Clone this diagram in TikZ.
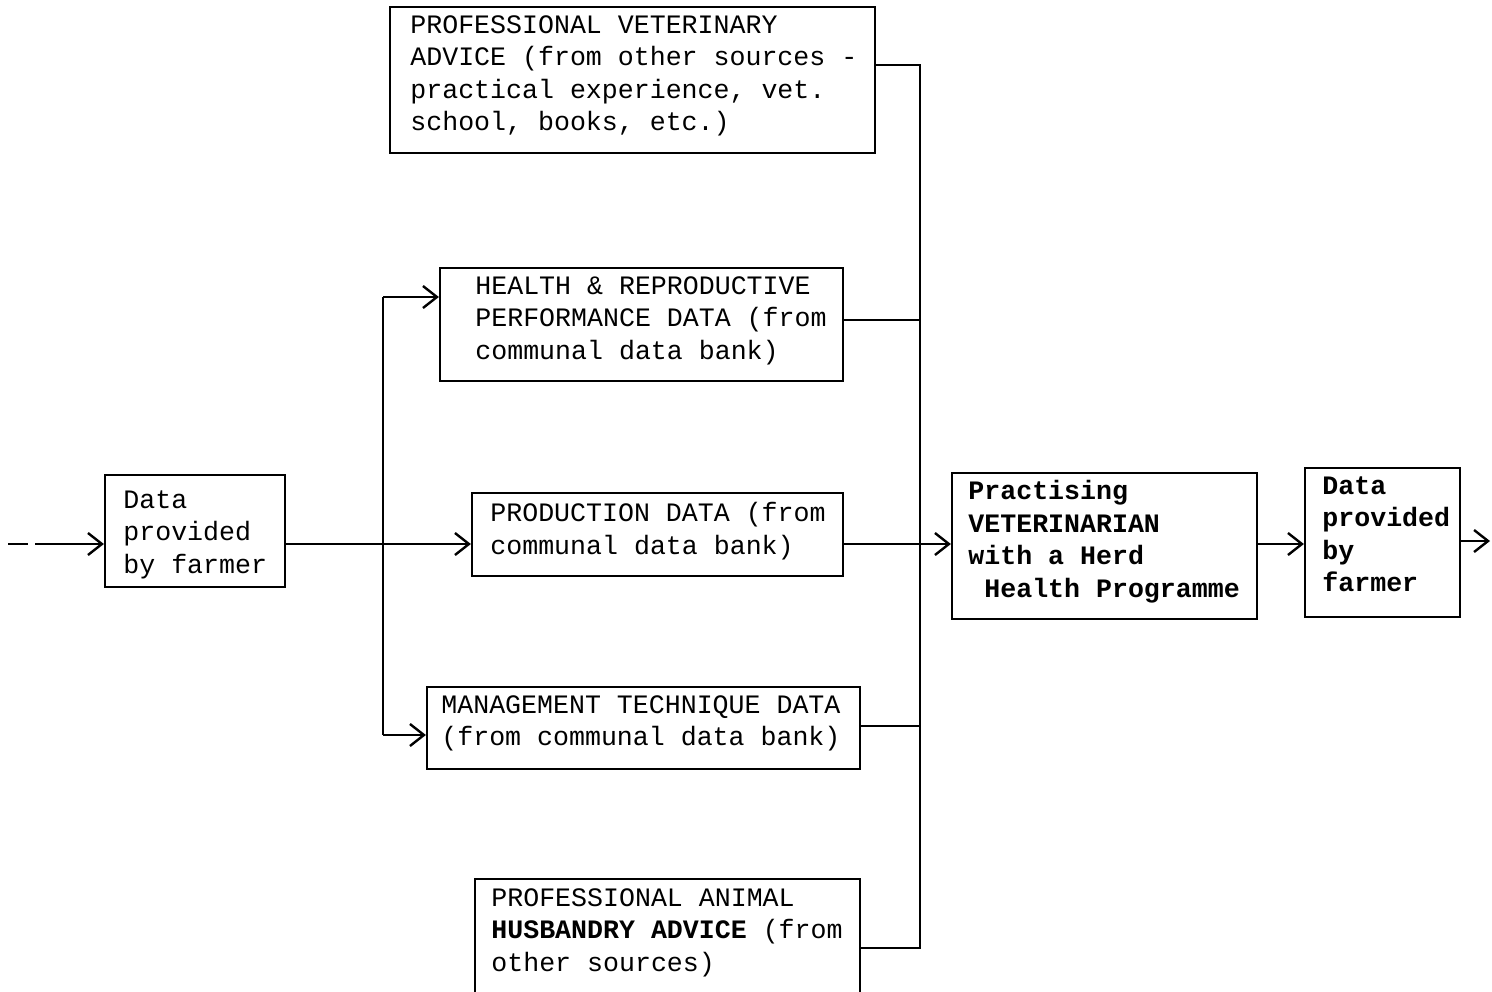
\documentclass[tikz,border=0pt]{standalone}
\usepackage{fontspec}
\setmonofont{Liberation Mono}
\usetikzlibrary{arrows.meta}
\begin{document}
\begin{tikzpicture}[x=0.5pt,y=-0.5pt,
  box/.style={draw, line width=1.1pt, rectangle, inner sep=0pt},
  txt/.style={font=\fontsize{13.3}{16.3}\selectfont\ttfamily, align=left, inner sep=0pt, anchor=north west},
  conn/.style={line width=1.1pt},
  arr/.style={line width=1.1pt, -{Straight Barb[length=7pt,width=11pt,line width=1.2pt]}}]
\useasboundingbox (0,0) rectangle (1492,991);
\clip (0,0) rectangle (1492,991);
% boxes
\node[box, minimum width=90pt, minimum height=56pt] (farmer) at (195,531) {};
\node[box, minimum width=201.5pt, minimum height=56.5pt] (health) at (641.5,324.5) {};
\node[box, minimum width=185.5pt, minimum height=41.5pt] (prod) at (657.5,534.5) {};
\node[box, minimum width=216.5pt, minimum height=41pt] (mgmt) at (643.5,728) {};
\node[box, minimum width=242.5pt, minimum height=73pt] (pvet) at (632.5,80) {};
\node[box, minimum width=192.5pt, minimum height=65.5pt] (animal) at (667.5,944.5) {};
\node[box, minimum width=152.5pt, minimum height=73pt] (vet) at (1104.5,546) {};
\node[box, minimum width=77.5pt, minimum height=74.5pt] (data) at (1382.5,542.5) {};
% texts
\node[txt] (farmerT) at (123,490) {Data\\provided\\by farmer};
\node[txt] (healthT) at (475,276) {HEALTH \& REPRODUCTIVE\\PERFORMANCE DATA (from\\communal data bank)};
\node[txt] (prodT) at (490,502) {PRODUCTION DATA (from\\communal data bank)};
\node[txt] (mgmtT) at (441,695) {MANAGEMENT TECHNIQUE DATA\\(from communal data bank)};
\node[txt] (pvetT) at (410,15) {PROFESSIONAL VETERINARY\\ADVICE (from other sources -\\practical experience, vet.\\school, books, etc.)};
\node[txt] (animalT) at (491,888) {PROFESSIONAL ANIMAL\\\textbf{HUSBANDRY ADVICE} (from\\other sources)};
\node[txt, font=\fontsize{13.3}{16.3}\selectfont\ttfamily\bfseries] (vetT) at (968,480) {Practising\\VETERINARIAN\\with a Herd\\\ Health Programme};
\node[txt, font=\fontsize{13.3}{16.3}\selectfont\ttfamily\bfseries] (dataT) at (1322,476) {Data\\provided\\by\\farmer};
% coordinates
\coordinate (in) at (8,544);
\coordinate (in2) at (35,544);
\coordinate (main) at (383,544);
\coordinate (bt) at (383,297);
\coordinate (bb) at (383,735);
\coordinate (ct) at (920,65);
\coordinate (cb) at (920,948);
\coordinate (out) at (1490,541);
% connectors
\draw[conn] (in) -- ++(20,0);
\draw[arr] (in2) -- (farmer.west |- in);
\draw[arr] (farmer.east |- main) -- (prod.west |- main);
\draw[conn] (bt) -- (bb);
\draw[arr] (bt) -- (bt -| health.west);
\draw[arr] (bb) -- (bb -| mgmt.west);
\draw[conn] (pvet.east |- ct) -- (ct) -- (cb) -- (animal.east |- cb);
\draw[conn] (health.east |- 0,320) -- (ct |- 0,320);
\draw[conn] (mgmt.east |- 0,726) -- (ct |- 0,726);
\draw[arr] (prod.east |- main) -- (vet.west |- main);
\draw[arr] (vet.east |- main) -- (data.west |- main);
\draw[arr] (data.east |- out) -- (out);
\end{tikzpicture}
\end{document}
